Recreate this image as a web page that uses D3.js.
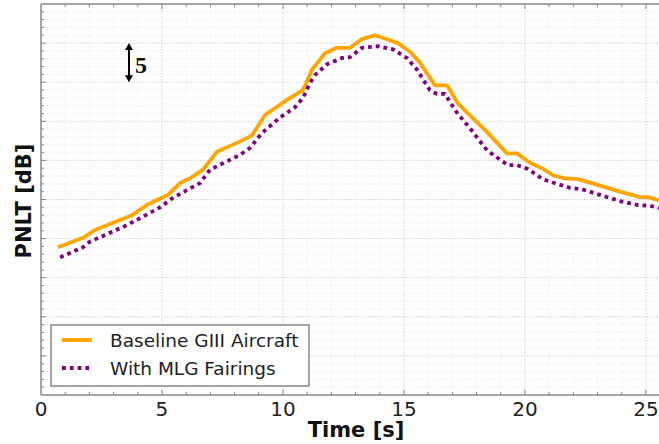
<!DOCTYPE html>
<html>
<head>
<meta charset="utf-8">
<script src="https://cdn.jsdelivr.net/npm/d3@7"></script>
<style>
  html, body { margin: 0; padding: 0; background: #fff; }
  svg { display: block; }
</style>
</head>
<body>
<div id="chart"></div>
<script>
// series (time in s, PNLT in dB, arbitrary offset)
const baseTime = [0.70, 1.74, 2.23, 3.76, 4.38, 5.25, 5.74, 6.16, 6.69, 7.27, 8.22, 8.72, 9.26, 10.29, 10.83, 11.20, 11.74, 12.23, 12.77, 13.26, 13.80, 14.30, 14.75, 15.25, 15.66, 16.28, 16.78, 17.23, 17.81, 18.35, 19.26, 19.67, 20.21, 20.70, 21.16, 21.65, 22.19, 22.98, 23.93, 24.75, 25.08, 25.54];
const basePnlt = [78.9, 80.1, 81.1, 83.0, 84.3, 85.6, 87.1, 87.7, 88.8, 91.1, 92.4, 93.2, 95.8, 98.0, 99.0, 101.6, 103.7, 104.4, 104.4, 105.5, 106.0, 105.5, 105.0, 103.9, 102.5, 99.6, 99.6, 97.3, 95.5, 93.9, 90.9, 90.9, 89.7, 89.0, 88.1, 87.7, 87.6, 86.9, 86.0, 85.3, 85.3, 84.9];

const mlgTime = [0.79, 1.74, 2.02, 3.47, 4.09, 4.92, 5.45, 6.03, 6.57, 6.98, 8.22, 8.64, 9.13, 9.88, 10.50, 10.83, 11.12, 11.32, 11.82, 12.44, 12.77, 13.26, 13.93, 14.55, 15.12, 15.54, 16.07, 16.36, 16.69, 17.19, 17.73, 18.43, 18.97, 19.30, 19.67, 20.12, 20.74, 21.32, 21.86, 22.36, 22.98, 23.93, 24.63, 25.17, 25.54];
const mlgPnlt = [77.6, 78.9, 79.6, 81.6, 82.6, 84.0, 85.2, 86.2, 87.1, 88.8, 90.7, 91.6, 93.5, 95.5, 96.8, 98.0, 99.9, 100.9, 102.3, 103.1, 103.2, 104.4, 104.6, 104.2, 103.1, 101.6, 99.0, 98.5, 98.5, 96.1, 94.1, 91.3, 90.1, 89.4, 89.4, 88.9, 87.6, 87.0, 86.5, 86.3, 85.7, 84.8, 84.3, 84.2, 83.9];

const seriesNames = ["Baseline GIII Aircraft", "With MLG Fairings"];
const xTicks = [0, 5, 10, 15, 20, 25];

(() => {
  const width = 659;
  const height = 444;
  const left = 41, right = 659, top = 4, bottom = 395;

  const x = d3.scaleLinear().domain([0, 25.54]).range([left, right]);
  const y = d3.scaleLinear().domain([60, 110]).range([bottom, top]);

  const svg = d3.select("#chart")
    .append("svg")
    .attr("width", width)
    .attr("height", height)
    .style("font-family", "'DejaVu Sans', sans-serif");

  svg.append("defs").append("clipPath").attr("id", "clip")
    .append("rect")
    .attr("x", left).attr("y", top)
    .attr("width", right - left).attr("height", bottom - top);

  const minorX = d3.range(1, 26).filter(d => d % 5 !== 0);
  const majorX = d3.range(5, 26, 5);
  const minorY = d3.range(61, 110).filter(d => d % 5 !== 0);
  const majorY = d3.range(65, 110, 5);

  // grid
  const grid = svg.append("g");
  grid.selectAll(".mx").data(minorX).join("line")
    .attr("x1", d => x(d)).attr("x2", d => x(d))
    .attr("y1", top).attr("y2", bottom)
    .attr("stroke", "#ececec").attr("stroke-width", 0.8)
    .attr("stroke-dasharray", "1.5,1.5");
  grid.selectAll(".my").data(minorY).join("line")
    .attr("x1", left).attr("x2", right)
    .attr("y1", d => y(d)).attr("y2", d => y(d))
    .attr("stroke", "#ececec").attr("stroke-width", 0.8)
    .attr("stroke-dasharray", "1.5,1.5");
  grid.selectAll(".Mx").data(majorX).join("line")
    .attr("x1", d => x(d)).attr("x2", d => x(d))
    .attr("y1", top).attr("y2", bottom)
    .attr("stroke", "#cfcfcf").attr("stroke-width", 1)
    .attr("stroke-dasharray", "1.5,1.5");
  grid.selectAll(".My").data(majorY).join("line")
    .attr("x1", left).attr("x2", right)
    .attr("y1", d => y(d)).attr("y2", d => y(d))
    .attr("stroke", "#cfcfcf").attr("stroke-width", 1)
    .attr("stroke-dasharray", "1.5,1.5");

  // lines
  const line = d3.line().x(d => x(d[0])).y(d => y(d[1]));
  const plot = svg.append("g").attr("clip-path", "url(#clip)");

  plot.append("path")
    .datum(d3.zip(baseTime, basePnlt))
    .attr("d", line)
    .attr("fill", "none")
    .attr("stroke", "#ffa500")
    .attr("stroke-width", 3.8)
    .attr("stroke-linejoin", "round");

  plot.append("path")
    .datum(d3.zip(mlgTime, mlgPnlt))
    .attr("d", line)
    .attr("fill", "none")
    .attr("stroke", "#800080")
    .attr("stroke-width", 3.8)
    .attr("stroke-dasharray", "3.8,4");

  // axes frame
  const frame = svg.append("g").attr("stroke", "#888").attr("fill", "none");
  frame.append("line").attr("x1", left).attr("x2", right).attr("y1", top).attr("y2", top).attr("stroke-width", 1.5);
  frame.append("line").attr("x1", left).attr("x2", right).attr("y1", bottom).attr("y2", bottom).attr("stroke-width", 1.5);
  frame.append("line").attr("x1", left).attr("x2", left).attr("y1", top).attr("y2", bottom).attr("stroke-width", 1.5);

  // inward ticks
  const tickG = svg.append("g").attr("stroke", "#888").attr("stroke-width", 1);
  const allX = d3.range(1, 26);
  tickG.selectAll(".tb").data(allX).join("line")
    .attr("x1", d => x(d)).attr("x2", d => x(d))
    .attr("y1", bottom).attr("y2", d => bottom - (d % 5 === 0 ? 5 : 3));
  tickG.selectAll(".tt").data(allX).join("line")
    .attr("x1", d => x(d)).attr("x2", d => x(d))
    .attr("y1", top).attr("y2", d => top + (d % 5 === 0 ? 5 : 3));
  tickG.selectAll(".tl").data(d3.range(61, 110)).join("line")
    .attr("x1", left).attr("x2", d => left + (d % 5 === 0 ? 5 : 3))
    .attr("y1", d => y(d)).attr("y2", d => y(d));

  // tick labels
  svg.append("g")
    .selectAll("text")
    .data(xTicks)
    .join("text")
    .attr("x", d => x(d))
    .attr("y", 416)
    .attr("text-anchor", "middle")
    .attr("font-size", 20)
    .attr("fill", "#222")
    .text(d => d);

  // axis titles
  svg.append("text")
    .attr("x", 356).attr("y", 437)
    .attr("text-anchor", "middle")
    .attr("font-size", 21).attr("font-weight", "bold")
    .attr("fill", "#111")
    .text("Time [s]");

  svg.append("text")
    .attr("transform", "translate(31,201) rotate(-90)")
    .attr("text-anchor", "middle")
    .attr("font-size", 21).attr("font-weight", "bold")
    .attr("fill", "#111")
    .text("PNLT [dB]");

  // 5 dB scale marker
  const sb = svg.append("g");
  sb.append("line")
    .attr("x1", 129).attr("x2", 129)
    .attr("y1", y(105) + 5).attr("y2", y(100) - 5)
    .attr("stroke", "#000").attr("stroke-width", 2);
  sb.append("path")
    .attr("d", `M129,${y(105)} l-4,7 h8 z M129,${y(100)} l-4,-7 h8 z`)
    .attr("fill", "#000");
  sb.append("text")
    .attr("x", 135).attr("y", 73)
    .attr("font-family", "'Liberation Serif', 'DejaVu Serif', serif")
    .attr("font-weight", "bold")
    .attr("font-size", 24)
    .attr("fill", "#111")
    .text("5");

  // legend
  const lg = svg.append("g");
  lg.append("rect")
    .attr("x", 51).attr("y", 325)
    .attr("width", 258).attr("height", 61)
    .attr("fill", "#fff")
    .attr("stroke", "#888").attr("stroke-width", 1.5);
  lg.append("line")
    .attr("x1", 62).attr("x2", 92).attr("y1", 340).attr("y2", 340)
    .attr("stroke", "#ffa500").attr("stroke-width", 3.8);
  lg.append("line")
    .attr("x1", 62).attr("x2", 92).attr("y1", 368).attr("y2", 368)
    .attr("stroke", "#800080").attr("stroke-width", 3.8)
    .attr("stroke-dasharray", "3.8,4");
  lg.selectAll("text")
    .data(seriesNames)
    .join("text")
    .attr("x", 110)
    .attr("y", (d, i) => 347 + i * 28)
    .attr("font-size", 18.5)
    .attr("fill", "#222")
    .text(d => d);
})();
</script>
</body>
</html>
